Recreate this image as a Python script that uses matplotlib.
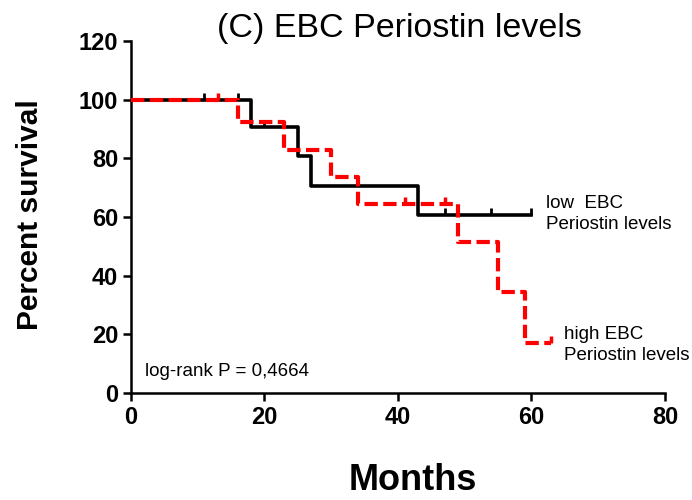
import matplotlib
matplotlib.use("Agg")
import matplotlib.pyplot as plt

plt.rcParams["font.family"] = ["Liberation Sans", "DejaVu Sans"]

# Kaplan-Meier steps (months, percent survival)
low_times = [0, 18, 25, 27, 43, 60]
low_surv = [100, 90.7, 80.7, 70.7, 60.6, 60.6]
low_cens_t = [11, 16, 20, 47, 54, 60]
low_cens_s = [100, 100, 90.7, 60.6, 60.6, 60.6]

high_times = [0, 16, 23, 30, 34, 49, 55, 59, 63]
high_surv = [100, 92.3, 82.8, 73.8, 64.6, 51.5, 34.4, 17.2, 17.2]
high_cens_t = [13, 41, 47, 63]
high_cens_s = [100, 64.6, 64.6, 17.2]

x_ticks = [0, 20, 40, 60, 80]
y_ticks = [0, 20, 40, 60, 80, 100, 120]

fig = plt.figure(figsize=(6.92, 5.0), dpi=100)
ax = fig.add_axes([0.189, 0.214, 0.772, 0.704])

ax.step(low_times, low_surv, where="post", color="black", lw=2.6, zorder=3)
ax.plot(low_cens_t, low_cens_s, ls="none", marker=2, ms=5, mew=2,
        color="black", zorder=3)

ax.step(high_times, high_surv, where="post", color="red", lw=3.0,
        ls=(0, (3.2, 1.3)), zorder=4)
ax.plot(high_cens_t, high_cens_s, ls="none", marker=2, ms=5, mew=2.5,
        color="red", zorder=4)

ax.set_xlim(0, 80)
ax.set_ylim(0, 120)
ax.set_xticks(x_ticks)
ax.set_yticks(y_ticks)
for lab in ax.get_xticklabels() + ax.get_yticklabels():
    lab.set_fontweight("bold")
ax.tick_params(labelsize=17, width=1.8, length=6, direction="out", pad=3)
for side in ["top", "right"]:
    ax.spines[side].set_visible(False)
for side in ["left", "bottom"]:
    ax.spines[side].set_linewidth(1.8)
ax.patch.set_visible(False)

fig.text(0.577, 0.942, "(C) EBC Periostin levels", fontsize=24.5,
         ha="center", va="center")
fig.text(0.597, 0.04, "Months", fontsize=26, fontweight="bold",
         ha="center", va="center")
fig.text(0.043, 0.57, "Percent survival", fontsize=21.5, fontweight="bold",
         ha="center", va="center", rotation=90)

ax.text(62.2, 61, "low  EBC\nPeriostin levels", fontsize=13.5,
        va="center", ha="left", linespacing=1.3)
ax.text(64.8, 16.5, "high EBC\nPeriostin levels", fontsize=13.5,
        va="center", ha="left", linespacing=1.3)
ax.text(2.2, 7.5, "log-rank P = 0,4664", fontsize=13.5, va="center",
        ha="left")

fig.savefig("out.png", dpi=100)
